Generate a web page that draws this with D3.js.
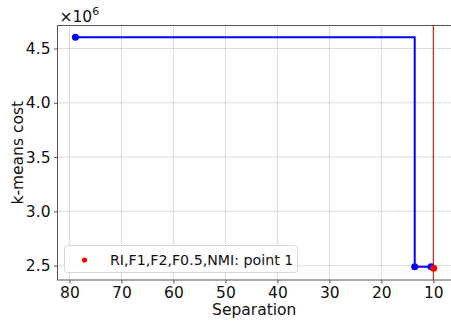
<!DOCTYPE html>
<html>
<head>
<meta charset="utf-8">
<script src="https://cdn.jsdelivr.net/npm/d3@7"></script>
<style>
  body { margin: 0; background: #fff; }
  svg text { font-family: "DejaVu Sans", sans-serif; }
</style>
</head>
<body>
<div id="chart"></div>
<script>
// step curve of k-means cost against separation
var separation = [78.85, 13.58, 10.44];
var cost = [4.603e6, 2.49e6, 2.49e6];
// the single red point
var pointSep = [9.93];
var pointCost = [2.476e6];
var pointLabel = "RI,F1,F2,F0.5,NMI: point 1";
var markerSep = 10;
var xTicks = [80, 70, 60, 50, 40, 30, 20, 10];
var yTicks = [2.5e6, 3.0e6, 3.5e6, 4.0e6, 4.5e6];

var W = 451, H = 322;
var m = {left: 57.5, top: 25.5, right: 451, bottom: 280};

var svg = d3.select("#chart").append("svg").attr("width", W).attr("height", H);

var x = d3.scaleLinear().domain([82.3, 6.6]).range([m.left, m.right]);
var y = d3.scaleLinear().domain([2.368e6, 4.712e6]).range([m.bottom, m.top]);

// grid
svg.append("g").selectAll("line").data(xTicks).enter().append("line")
  .attr("x1", function (d) { return x(d); }).attr("x2", function (d) { return x(d); })
  .attr("y1", m.top).attr("y2", m.bottom)
  .attr("stroke", "#d0d0d0").attr("stroke-width", 0.8);
svg.append("g").selectAll("line").data(yTicks).enter().append("line")
  .attr("x1", m.left).attr("x2", m.right)
  .attr("y1", function (d) { return y(d); }).attr("y2", function (d) { return y(d); })
  .attr("stroke", "#d0d0d0").attr("stroke-width", 0.8);

// axes
var xAxis = d3.axisBottom(x).tickValues(xTicks).tickSize(3.5).tickPadding(3);
var yAxis = d3.axisLeft(y).tickValues(yTicks).tickSize(3.5).tickPadding(3.5)
  .tickFormat(function (d) { return (d / 1e6).toFixed(1); });

var gx = svg.append("g").attr("transform", "translate(0," + m.bottom + ")").call(xAxis);
var gy = svg.append("g").attr("transform", "translate(" + m.left + ",0)").call(yAxis);
[gx, gy].forEach(function (g) {
  g.select(".domain").remove();
  g.selectAll("line").attr("stroke", "#555");
  g.selectAll("text").attr("fill", "#111").style("font-size", "15.5px");
});

// spines
svg.append("rect").attr("x", m.left).attr("y", m.top)
  .attr("width", m.right - m.left + 2).attr("height", m.bottom - m.top)
  .attr("fill", "none").attr("stroke", "#555").attr("stroke-width", 1);

// vertical marker line
svg.append("line")
  .attr("x1", x(markerSep)).attr("x2", x(markerSep))
  .attr("y1", m.top).attr("y2", m.bottom)
  .attr("stroke", "#c00000").attr("stroke-width", 1);

// step line
var pts = separation.map(function (s, i) { return [s, cost[i]]; });
var line = d3.line()
  .x(function (d) { return x(d[0]); })
  .y(function (d) { return y(d[1]); })
  .curve(d3.curveStepAfter);
svg.append("path").datum(pts).attr("d", line)
  .attr("fill", "none").attr("stroke", "#0000ff").attr("stroke-width", 2);
svg.append("g").selectAll("circle").data(pts).enter().append("circle")
  .attr("cx", function (d) { return x(d[0]); })
  .attr("cy", function (d) { return y(d[1]); })
  .attr("r", 3.5).attr("fill", "#0000ff");

// red point
svg.append("g").selectAll("circle").data(pointSep).enter().append("circle")
  .attr("cx", function (d) { return x(d); })
  .attr("cy", function (d, i) { return y(pointCost[i]); })
  .attr("r", 3.5).attr("fill", "#ff0000");

// legend
var lg = svg.append("g");
lg.append("rect").attr("x", 64.5).attr("y", 245.5).attr("width", 233).attr("height", 27)
  .attr("rx", 3).attr("fill", "rgba(255,255,255,0.8)").attr("stroke", "#d8d8d8");
lg.append("circle").attr("cx", 84.5).attr("cy", 260).attr("r", 2.6).attr("fill", "#ff0000");
lg.append("text").attr("x", 110).attr("y", 264.5).style("font-size", "14.2px")
  .attr("fill", "#111").text(pointLabel);

// multiplier label
var mult = svg.append("text").attr("x", 59.5).attr("y", 21.5).style("font-size", "15.5px").attr("fill", "#111");
mult.append("tspan").text("\u00d710");
mult.append("tspan").attr("dy", -6.5).style("font-size", "11px").text("6");

// axis titles
svg.append("text").attr("x", (m.left + m.right) / 2).attr("y", 315)
  .attr("text-anchor", "middle").style("font-size", "15.5px").attr("fill", "#111").text("Separation");
svg.append("text").attr("transform", "translate(22.5," + ((m.top + m.bottom) / 2) + ") rotate(-90)")
  .attr("text-anchor", "middle").style("font-size", "15.5px").attr("fill", "#111").text("k-means cost");
</script>
</body>
</html>
